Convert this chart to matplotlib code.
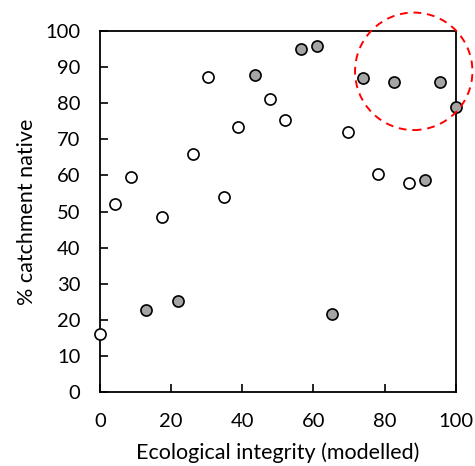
import matplotlib.pyplot as plt
from matplotlib.patches import Ellipse

plt.rcParams['font.family'] = ['Lato', 'DejaVu Sans']

# open markers
x_open = [0, 4.2, 8.7, 17.3, 26.1, 30.4, 34.9, 38.9, 47.8, 52.1, 69.6, 78.2, 86.9]
y_open = [16.0, 52.1, 59.6, 48.5, 65.9, 87.3, 53.9, 73.5, 81.2, 75.3, 72.1, 60.5, 57.9]

# grey filled markers
x_grey = [13.0, 21.8, 43.5, 56.5, 60.9, 65.3, 74.0, 82.7, 91.4, 95.7, 100]
y_grey = [22.7, 25.3, 87.8, 95.0, 96.0, 21.6, 87.0, 86.0, 58.8, 86.0, 79.0]

fig = plt.figure(figsize=(4.75, 4.66), dpi=100)
ax = fig.add_axes([0.2105, 0.1594, 0.7489, 0.7734])

ax.plot(x_open, y_open, 'o', ms=8, mfc='white', mec='black', mew=1.2, clip_on=False, zorder=3)
ax.plot(x_grey, y_grey, 'o', ms=8, mfc='#a5a5a5', mec='black', mew=1.2, clip_on=False, zorder=3)

# highlight ring
ring = Ellipse((88.2, 88.9), 33.0, 32.6, fill=False, ec='#ff0000', ls=(0, (4, 3)),
               lw=1.4, clip_on=False, zorder=4)
ax.add_patch(ring)

ax.set_xlim(0, 100)
ax.set_ylim(0, 100)
ax.set_xticks(range(0, 101, 20))
ax.set_yticks(range(0, 101, 10))
ax.tick_params(axis='x', direction='in', length=6, width=1.2, labelsize=14.5, pad=15)
ax.tick_params(axis='y', direction='in', length=6, width=1.2, labelsize=14.5, pad=14)
for s in ax.spines.values():
    s.set_linewidth(1.3)

ax.set_xlabel('Ecological integrity (modelled)', fontsize=15.5, labelpad=9)
ax.set_ylabel('% catchment native', fontsize=15.5, labelpad=6)

fig.savefig('out.png', dpi=100)
